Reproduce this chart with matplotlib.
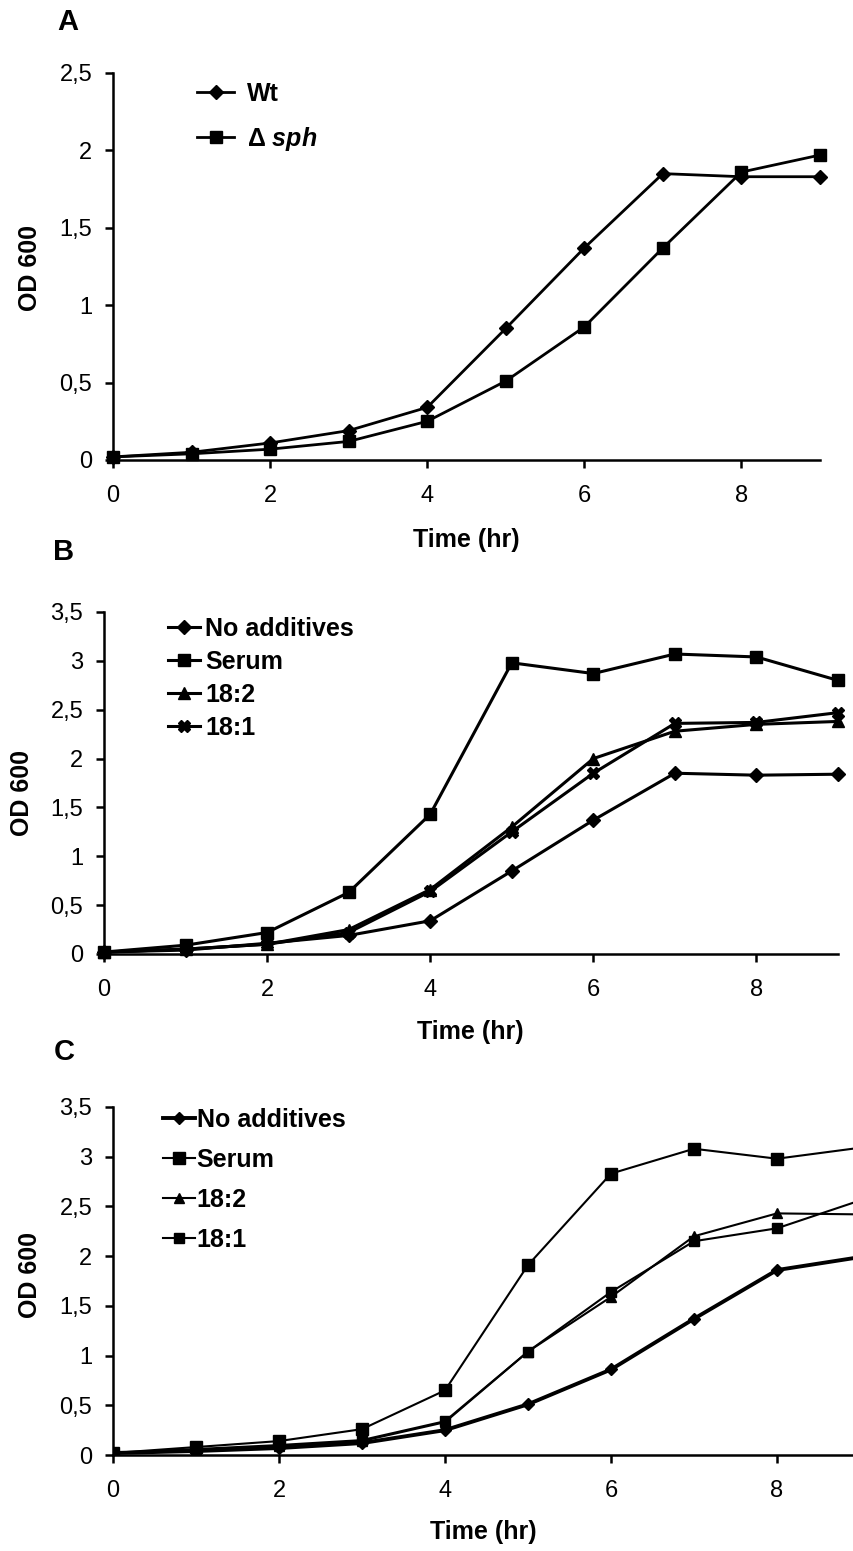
import matplotlib
matplotlib.use("Agg")
import matplotlib.pyplot as plt
from matplotlib.ticker import FuncFormatter

plt.rcParams['font.family'] = ['Liberation Sans', 'DejaVu Sans']
plt.rcParams['mathtext.fontset'] = 'custom'
plt.rcParams['mathtext.it'] = 'Liberation Sans:bold:italic'
plt.rcParams['mathtext.rm'] = 'Liberation Sans:bold'

hours = [0, 1, 2, 3, 4, 5, 6, 7, 8, 9]

# panel A
a_wt = [0.02, 0.05, 0.11, 0.19, 0.34, 0.85, 1.37, 1.85, 1.83, 1.83]
a_sph = [0.02, 0.04, 0.07, 0.12, 0.25, 0.51, 0.86, 1.37, 1.86, 1.97]

# panel B
b_none = [0.02, 0.04, 0.11, 0.19, 0.34, 0.85, 1.37, 1.85, 1.83, 1.84]
b_serum = [0.02, 0.09, 0.22, 0.63, 1.43, 2.98, 2.87, 3.07, 3.04, 2.80]
b_182 = [0.02, 0.05, 0.10, 0.25, 0.66, 1.30, 2.00, 2.28, 2.35, 2.38]
b_181 = [0.02, 0.05, 0.10, 0.22, 0.64, 1.25, 1.85, 2.36, 2.37, 2.47]

# panel C
c_none = [0.02, 0.04, 0.07, 0.12, 0.25, 0.51, 0.86, 1.37, 1.86, 1.99]
c_serum = [0.02, 0.08, 0.14, 0.26, 0.65, 1.91, 2.83, 3.08, 2.98, 3.09]
c_182 = [0.02, 0.05, 0.09, 0.14, 0.33, 1.04, 1.59, 2.20, 2.43, 2.42]
c_181 = [0.02, 0.06, 0.10, 0.15, 0.34, 1.04, 1.64, 2.15, 2.28, 2.56]

labels_b = ["No additives", "Serum", "18:2", "18:1"]

W, H = 854, 1551
fig = plt.figure(figsize=(W / 100, H / 100), dpi=100)


def fx(px):
    return px / W


def fy(py):
    return 1 - py / H


def ax_at(left, right, top, bottom):
    return fig.add_axes([left / W, 1 - bottom / H, (right - left) / W, (bottom - top) / H])


comma = FuncFormatter(lambda v, p: ("%g" % v).replace(".", ","))


def style(ax, ymax, xmax, ylab_xy, xlab_xy):
    ax.set_xlim(0, xmax)
    ax.set_ylim(0, ymax)
    ax.set_xticks([0, 2, 4, 6, 8])
    ax.set_yticks([i * 0.5 for i in range(int(ymax / 0.5) + 1)])
    ax.yaxis.set_major_formatter(comma)
    for s in ['top', 'right']:
        ax.spines[s].set_visible(False)
    for s in ['left', 'bottom']:
        ax.spines[s].set_linewidth(1.8)
    ax.tick_params(direction='out', length=6, width=1.8, labelsize=17)
    ax.tick_params(axis='x', pad=12)
    ax.tick_params(axis='y', pad=9)
    fig.text(fx(ylab_xy[0]), fy(ylab_xy[1]), "OD 600", rotation=90, fontsize=18,
             fontweight='bold', ha='center', va='center')
    fig.text(fx(xlab_xy[0]), fy(xlab_xy[1]), "Time (hr)", fontsize=18,
             fontweight='bold', ha='center', va='center')


leg_kw = dict(loc='upper left', frameon=False, borderpad=0, borderaxespad=0,
              prop={'size': 18, 'weight': 'bold'})

# A
axA = ax_at(113, 820, 73, 460)
axA.plot(hours, a_wt, color='black', lw=2, marker='D', ms=7, label="Wt", clip_on=False)
axA.plot(hours, a_sph, color='black', lw=2, marker='s', ms=8, label=r"$\Delta$ $sph$", clip_on=False)
style(axA, 2.5, 9, (30, 268), (466, 540))
axA.legend(bbox_to_anchor=(fx(197), fy(82)), bbox_transform=fig.transFigure,
           handlelength=1.5, labelspacing=0.75, handletextpad=0.5, **leg_kw)

# B
axB = ax_at(104, 838, 612, 954)
for ys, m, ms in zip([b_none, b_serum, b_182, b_181], ['D', 's', '^', 'X'], [7, 9, 8, 8]):
    axB.plot(hours, ys, color='black', lw=2.2, marker=m, ms=ms, clip_on=False)
style(axB, 3.5, 9, (22, 793), (470, 1032))
axB.legend(labels_b, bbox_to_anchor=(fx(168), fy(617)), bbox_transform=fig.transFigure,
           handlelength=1.3, labelspacing=0.36, handletextpad=0.2, **leg_kw)

# C
axC = ax_at(113, 854, 1107, 1455)
axC.plot(hours, c_none, color='black', lw=2.8, marker='D', ms=6)
axC.plot(hours, c_serum, color='black', lw=1.5, marker='s', ms=8)
axC.plot(hours, c_182, color='black', lw=1.5, marker='^', ms=7)
axC.plot(hours, c_181, color='black', lw=1.5, marker='s', ms=7)
style(axC, 3.5, 741 / 83, (30, 1275), (483, 1532))
axC.legend(labels_b, bbox_to_anchor=(fx(163), fy(1108)), bbox_transform=fig.transFigure,
           handlelength=1.3, labelspacing=0.64, handletextpad=0.05, **leg_kw)

fig.text(fx(68), fy(22), "A", fontsize=21, fontweight='bold', ha='center', va='center')
fig.text(fx(64), fy(552), "B", fontsize=21, fontweight='bold', ha='center', va='center')
fig.text(fx(64), fy(1052), "C", fontsize=21, fontweight='bold', ha='center', va='center')

fig.savefig("out.png", dpi=100)
